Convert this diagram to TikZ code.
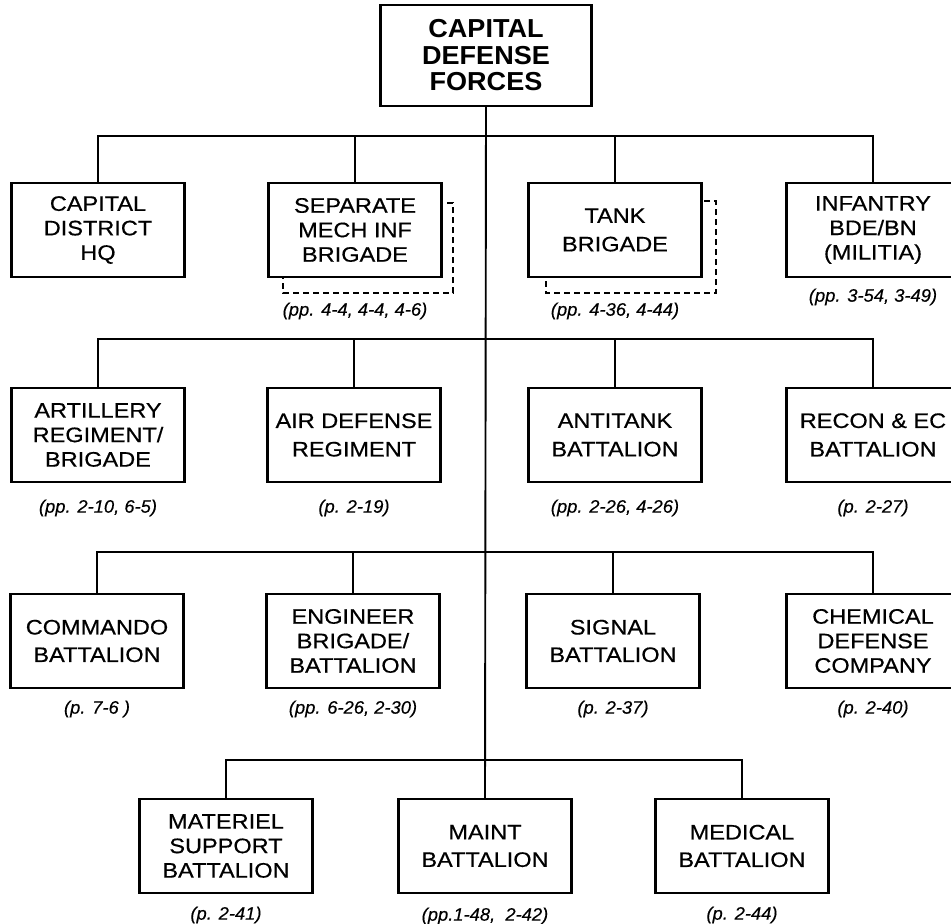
\documentclass[tikz,border=0pt]{standalone}
\usepackage{fontspec}
\setmainfont{Liberation Sans}
\newfontfamily\boxfont{Liberation Sans}[FakeStretch=1.12,FakeBold=0.5]
\newfontfamily\topfont{Liberation Sans}[FakeStretch=1.04]
\newfontfamily\lblfont{Liberation Sans}[FakeStretch=1.02,FakeBold=0.3]
\begin{document}
\begin{tikzpicture}[x=1pt,y=-1pt,
  unit/.style={draw,line width=2.2pt,fill=white,minimum width=173pt,minimum height=94pt,
    inner sep=0pt,align=center,font=\boxfont\fontsize{21}{24.5}\selectfont},
  topbox/.style={draw,line width=2.4pt,fill=white,minimum width=211pt,minimum height=101pt,
    inner sep=0pt,align=center,font=\topfont\bfseries\fontsize{26}{26.5}\selectfont},
  lbl/.style={inner sep=0pt,font=\lblfont\itshape\fontsize{18}{20}\selectfont},
  conn/.style={line width=1.9pt},
  shadow/.style={line width=1.4pt,dash pattern=on 6pt off 4pt}]
\useasboundingbox (0,0) rectangle (951,924);
\fill[white] (0,0) rectangle (951,924);

% dashed background outlines
\draw[shadow] (283,203) rectangle (453,293);
\draw[shadow] (546,201) rectangle (716,293);

% top
\node[topbox] (top) at (486,55.5) {CAPITAL\\DEFENSE\\FORCES};

% row 1
\node[unit] (a1) at (98,230) {CAPITAL\\DISTRICT\\HQ};
\node[unit] (a2) at (355,230) {SEPARATE\\MECH INF\\BRIGADE};
\node[unit] (a3) at (615,230) {TANK\\[4pt]BRIGADE};
\node[unit] (a4) at (873,230) {INFANTRY\\BDE/BN\\(MILITIA)};
\node[lbl] (la2) at (355,311) {(pp. 4-4, 4-4, 4-6)};
\node[lbl] (la3) at (615,311) {(pp. 4-36, 4-44)};
\node[lbl] (la4) at (873,297) {(pp. 3-54, 3-49)};

% row 2
\node[unit] (b1) at (98,435) {ARTILLERY\\REGIMENT/\\BRIGADE};
\node[unit] (b2) at (354,435) {AIR DEFENSE\\[4pt]REGIMENT};
\node[unit] (b3) at (615,435) {ANTITANK\\[4pt]BATTALION};
\node[unit] (b4) at (873,435) {RECON \& EC\\[4pt]BATTALION};
\node[lbl] (lb1) at (98,508) {(pp. 2-10, 6-5)};
\node[lbl] (lb2) at (354,508) {(p. 2-19)};
\node[lbl] (lb3) at (615,508) {(pp. 2-26, 4-26)};
\node[lbl] (lb4) at (873,508) {(p. 2-27)};

% row 3
\node[unit] (c1) at (97,641) {COMMANDO\\[3pt]BATTALION};
\node[unit] (c2) at (353,641) {ENGINEER\\BRIGADE/\\BATTALION};
\node[unit] (c3) at (613,641) {SIGNAL\\[3pt]BATTALION};
\node[unit] (c4) at (873,641) {CHEMICAL\\DEFENSE\\COMPANY};
\node[lbl] (lc1) at (97,709) {(p. 7-6 )};
\node[lbl] (lc2) at (353,709) {(pp. 6-26, 2-30)};
\node[lbl] (lc3) at (613,709) {(p. 2-37)};
\node[lbl] (lc4) at (873,709) {(p. 2-40)};

% row 4
\node[unit] (d1) at (226,846) {MATERIEL\\SUPPORT\\BATTALION};
\node[unit] (d2) at (485,846) {MAINT\\[3pt]BATTALION};
\node[unit] (d3) at (742,846) {MEDICAL\\[3pt]BATTALION};
\node[lbl] (ld1) at (226,915) {(p. 2-41)};
\node[lbl] (ld2) at (485,916) {(pp.1-48,\ \ 2-42)};
\node[lbl] (ld3) at (742,915) {(p. 2-44)};

% connectors
\coordinate (bus1) at (486,136);
\coordinate (bus2) at (486,339);
\coordinate (bus3) at (486,552);
\coordinate (bus4) at (485,760);
\draw[conn] (top.south) -- (d2.north);
\draw[conn] (a1.north) |- (bus1) -| (a4.north);
\draw[conn] (a2.north) -- (a2.north |- bus1);
\draw[conn] (a3.north) -- (a3.north |- bus1);
\draw[conn] (b1.north) |- (bus2) -| (b4.north);
\draw[conn] (b2.north) -- (b2.north |- bus2);
\draw[conn] (b3.north) -- (b3.north |- bus2);
\draw[conn] (c1.north) |- (bus3) -| (c4.north);
\draw[conn] (c2.north) -- (c2.north |- bus3);
\draw[conn] (c3.north) -- (c3.north |- bus3);
\draw[conn] (d1.north) |- (bus4) -| (d3.north);
\end{tikzpicture}
\end{document}
